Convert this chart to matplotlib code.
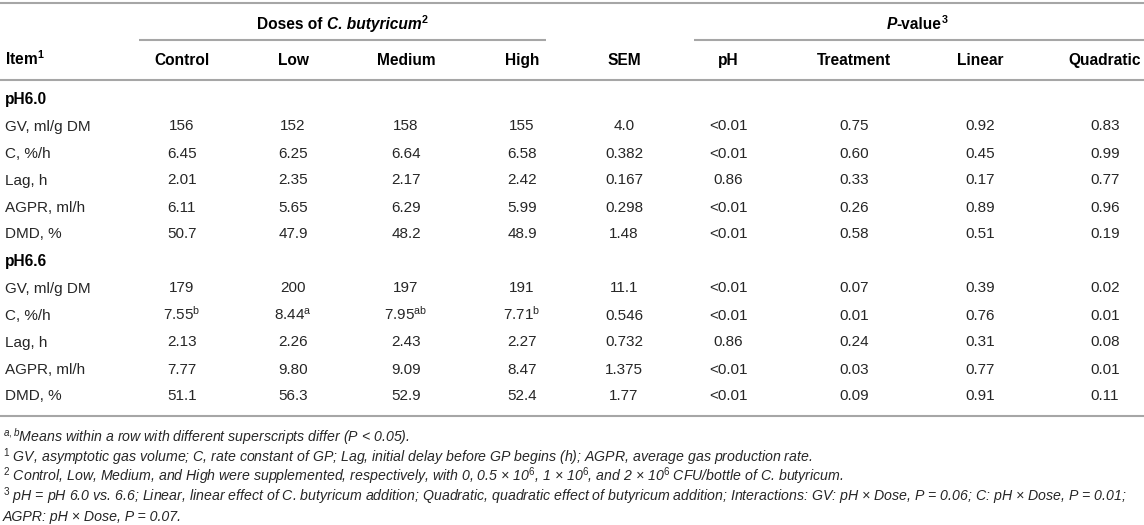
import matplotlib
matplotlib.use("Agg")
import matplotlib.pyplot as plt

plt.rcParams['font.family'] = ['Liberation Sans', 'DejaVu Sans']
plt.rcParams['mathtext.fontset'] = 'custom'
plt.rcParams['mathtext.rm'] = 'Liberation Sans'
plt.rcParams['mathtext.it'] = 'Liberation Sans:italic'
plt.rcParams['mathtext.bf'] = 'Liberation Sans:bold'
plt.rcParams['mathtext.bfit'] = 'Liberation Sans:italic:bold'

# ---------------- data ----------------
columns = ["Control", "Low", "Medium", "High", "SEM", "pH", "Treatment", "Linear", "Quadratic"]
items = ["GV, ml/g DM", "C, %/h", "Lag, h", "AGPR, ml/h", "DMD, %"]
groups = ["pH6.0", "pH6.6"]

ph60_control = ["156", "6.45", "2.01", "6.11", "50.7"]
ph60_low = ["152", "6.25", "2.35", "5.65", "47.9"]
ph60_medium = ["158", "6.64", "2.17", "6.29", "48.2"]
ph60_high = ["155", "6.58", "2.42", "5.99", "48.9"]
ph60_sem = ["4.0", "0.382", "0.167", "0.298", "1.48"]
ph60_p_ph = ["<0.01", "<0.01", "0.86", "<0.01", "<0.01"]
ph60_p_treatment = ["0.75", "0.60", "0.33", "0.26", "0.58"]
ph60_p_linear = ["0.92", "0.45", "0.17", "0.89", "0.51"]
ph60_p_quadratic = ["0.83", "0.99", "0.77", "0.96", "0.19"]

ph66_control = ["179", "7.55", "2.13", "7.77", "51.1"]
ph66_low = ["200", "8.44", "2.26", "9.80", "56.3"]
ph66_medium = ["197", "7.95", "2.43", "9.09", "52.9"]
ph66_high = ["191", "7.71", "2.27", "8.47", "52.4"]
ph66_sem = ["11.1", "0.546", "0.732", "1.375", "1.77"]
ph66_p_ph = ["<0.01", "<0.01", "0.86", "<0.01", "<0.01"]
ph66_p_treatment = ["0.07", "0.01", "0.24", "0.03", "0.09"]
ph66_p_linear = ["0.39", "0.76", "0.31", "0.77", "0.91"]
ph66_p_quadratic = ["0.02", "0.01", "0.08", "0.01", "0.11"]

# superscript letters on the C row of pH6.6 (Control, Low, Medium, High)
ph66_c_superscripts = ["b", "a", "ab", "b"]

footnotes = [
    r"$^{\mathit{a,b}}$Means within a row with different superscripts differ (P < 0.05).",
    r"$^{\mathrm{1}}$ GV, asymptotic gas volume; C, rate constant of GP; Lag, initial delay before GP begins (h); AGPR, average gas production rate.",
    r"$^{\mathrm{2}}$ Control, Low, Medium, and High were supplemented, respectively, with 0, 0.5 × 10$^{\mathit{6}}$, 1 × 10$^{\mathit{6}}$, and 2 × 10$^{\mathit{6}}$ CFU/bottle of C. butyricum.",
    r"$^{\mathrm{3}}$ pH = pH 6.0 vs. 6.6; Linear, linear effect of C. butyricum addition; Quadratic, quadratic effect of butyricum addition; Interactions: GV: pH × Dose, P = 0.06; C: pH × Dose, P = 0.01;",
    r"AGPR: pH × Dose, P = 0.07.",
]

group_data = [
    [ph60_control, ph60_low, ph60_medium, ph60_high, ph60_sem,
     ph60_p_ph, ph60_p_treatment, ph60_p_linear, ph60_p_quadratic],
    [ph66_control, ph66_low, ph66_medium, ph66_high, ph66_sem,
     ph66_p_ph, ph66_p_treatment, ph66_p_linear, ph66_p_quadratic],
]

# ---------------- layout ----------------
W, H = 1144, 525
fig = plt.figure(figsize=(W / 100, H / 100), dpi=100)
ax = fig.add_axes([0, 0, 1, 1])
ax.set_xlim(0, W)
ax.set_ylim(H, 0)
ax.axis("off")
renderer = fig.canvas.get_renderer()

col_x = [182, 293, 406, 522, 624, 728, 854, 980, 1105]
item_x = 5
line_color = "#a6a6a6"
lw = 1.5
txt_color = "#262626"
hdr_size = 11.2
body_size = 11.0
foot_size = 10.2


def base(y, size):
    # baseline offset so that cap-height is centred on y (pixels, dpi=100)
    return y + 0.36 * size * 100 / 72


def text_width(t):
    bb = t.get_window_extent(renderer=renderer)
    return bb.width


def pieces_centered(xc, y, parts):
    """parts: list of (string, kwargs, dy) drawn left-to-right, centred on xc."""
    objs = []
    for s, kw, _ in parts:
        objs.append(ax.text(0, 0, s, va="baseline", ha="left", **kw))
    widths = [text_width(o) for o in objs]
    x = xc - sum(widths) / 2
    for o, w, (_, _, dyy) in zip(objs, widths, parts):
        o.set_position((x, y + dyy))
        x += w


# rules
ax.plot([0, W], [3, 3], color=line_color, lw=lw, solid_capstyle="butt")
ax.plot([139, 546], [40, 40], color=line_color, lw=lw, solid_capstyle="butt")
ax.plot([694, W], [40, 40], color=line_color, lw=lw, solid_capstyle="butt")
ax.plot([0, W], [80, 80], color=line_color, lw=lw, solid_capstyle="butt")
ax.plot([0, W], [416, 416], color=line_color, lw=lw, solid_capstyle="butt")

# group headers
hb = base(23, hdr_size)
bold = dict(fontsize=hdr_size, fontweight="bold", color="black")
bold_it = dict(fontsize=hdr_size, fontweight="bold", style="italic", color="black")
sup = dict(fontsize=hdr_size * 0.68, fontweight="bold", color="black")
pieces_centered(342, hb, [("Doses of ", bold, 0), ("C. butyricum", bold_it, 0), ("2", sup, -6)])
pieces_centered(917, hb, [("P", bold_it, 0), ("-value", bold, 0), ("3", sup, -6)])

# column headers
ax.text(item_x, base(59, hdr_size), r"Item$^{\mathbf{1}}$", ha="left", va="baseline",
        fontsize=hdr_size, fontweight="bold", color="black")
for x, c in zip(col_x, columns):
    ax.text(x, base(59, hdr_size), c, ha="center", va="baseline", fontsize=hdr_size,
            fontweight="bold", color="black")

# body
y0 = 98
dy = 27
row = 0
for g, (gname, gdata) in enumerate(zip(groups, group_data)):
    y = y0 + row * dy
    ax.text(item_x, base(y, hdr_size), gname, ha="left", va="baseline", fontsize=hdr_size,
            fontweight="bold", color="black")
    row += 1
    for i, it in enumerate(items):
        y = y0 + row * dy
        ax.text(item_x, base(y, body_size), it, ha="left", va="baseline",
                fontsize=body_size, color=txt_color)
        for j, (x, colvals) in enumerate(zip(col_x, gdata)):
            s = colvals[i]
            if g == 1 and i == 1 and j < 4:
                s = s + r"$^{\mathrm{" + ph66_c_superscripts[j] + "}}$"
            ax.text(x, base(y, body_size), s, ha="center", va="baseline",
                    fontsize=body_size, color=txt_color)
        row += 1

# footnotes
fy0 = 437
fdy = 19.6
for k, f in enumerate(footnotes):
    ax.text(3, base(fy0 + k * fdy, foot_size), f, ha="left", va="baseline", fontsize=foot_size,
            style="italic", color=txt_color)

fig.savefig("out.png", dpi=100)
